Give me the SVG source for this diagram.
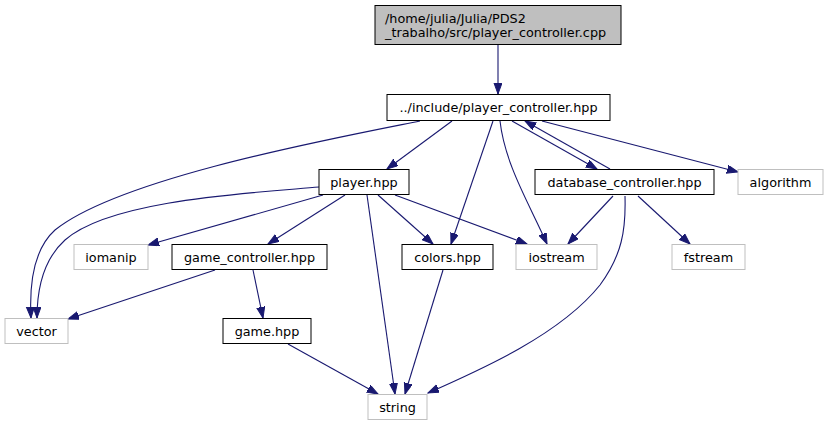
<svg xmlns="http://www.w3.org/2000/svg" width="829" height="425" viewBox="0 0 829 425">
<style>
.bg{fill:#ffffff}
.n rect{fill:#ffffff;stroke:#000000;stroke-width:1}
.n.ext rect{stroke:#bfbfbf}
.n.root rect{fill:#bfbfbf}
.n text{font-family:"DejaVu Sans",sans-serif;font-size:12.8px;fill:#000000;text-anchor:middle}
.n.root text{text-anchor:start}
.e path{fill:none;stroke:#191970;stroke-width:1.1;marker-end:url(#ah)}
</style>
<defs>
<marker id="ah" markerUnits="userSpaceOnUse" markerWidth="12" markerHeight="9" refX="11" refY="4" orient="auto">
<path d="M0,0 L11,4 L0,8 z" fill="#191970" stroke="#191970" stroke-width="1"/>
</marker>
</defs>
<rect class="bg" x="0" y="0" width="829" height="425"/>
<g id="edges" class="e">
<path d="M498,45 L498,94"/>
<path d="M420,121 C330,139 120,178 55,230 C35,248 29,280 31,318"/>
<path d="M319,187 C250,193 110,200 65,240 C45,258 37,285 37,318"/>
<path d="M452,121 L387,169"/>
<path d="M493,121 L451,244"/>
<path d="M500,121 C505,165 530,205 547,244"/>
<path d="M512,121 L597,169"/>
<path d="M610,169 L525,121"/>
<path d="M542,121 L738,172"/>
<path d="M323,195 L148,245"/>
<path d="M345,195 L268,244"/>
<path d="M367,195 L395,394"/>
<path d="M378,195 L433,244"/>
<path d="M395,195 L527,244"/>
<path d="M613,196 L568,244"/>
<path d="M638,196 L690,244"/>
<path d="M625,196 C626,230 622,255 600,285 C560,335 480,370 428,393"/>
<path d="M215,270 L68,319"/>
<path d="M253,270 L263,318"/>
<path d="M288,344 L378,394"/>
<path d="M443,270 L405,394"/>
</g>
<g id="node-root" class="n root"><rect x="375" y="5.5" width="246" height="39"/><text x="385" y="22.5">/home/julia/Julia/PDS2</text><text x="385" y="36.5">_trabalho/src/player_controller.cpp</text></g>
<g id="node-player_controller" class="n"><rect x="387" y="94.5" width="223" height="26"/><text x="498.5" y="112">../include/player_controller.hpp</text></g>
<g id="node-player" class="n"><rect x="319" y="169.5" width="90" height="25"/><text x="364" y="186.5">player.hpp</text></g>
<g id="node-database_controller" class="n"><rect x="535" y="169.5" width="179" height="25"/><text x="624.5" y="186.5">database_controller.hpp</text></g>
<g id="node-algorithm" class="n ext"><rect x="738" y="169.5" width="85" height="25"/><text x="780.5" y="186.5">algorithm</text></g>
<g id="node-iomanip" class="n ext"><rect x="74" y="244.5" width="74" height="25"/><text x="111" y="261.5">iomanip</text></g>
<g id="node-game_controller" class="n"><rect x="172" y="244.5" width="155" height="25"/><text x="249.5" y="261.5">game_controller.hpp</text></g>
<g id="node-colors" class="n"><rect x="402" y="244.5" width="91" height="25"/><text x="447.5" y="261.5">colors.hpp</text></g>
<g id="node-iostream" class="n ext"><rect x="516" y="244.5" width="81" height="25"/><text x="556.5" y="261.5">iostream</text></g>
<g id="node-fstream" class="n ext"><rect x="672" y="244.5" width="73" height="25"/><text x="708.5" y="261.5">fstream</text></g>
<g id="node-vector" class="n ext"><rect x="5" y="318.5" width="63" height="25"/><text x="36.5" y="335.5">vector</text></g>
<g id="node-game" class="n"><rect x="223" y="318.5" width="88" height="25"/><text x="267" y="335.5">game.hpp</text></g>
<g id="node-string" class="n ext"><rect x="368" y="394.5" width="59" height="25"/><text x="397.5" y="411.5">string</text></g>
</svg>
